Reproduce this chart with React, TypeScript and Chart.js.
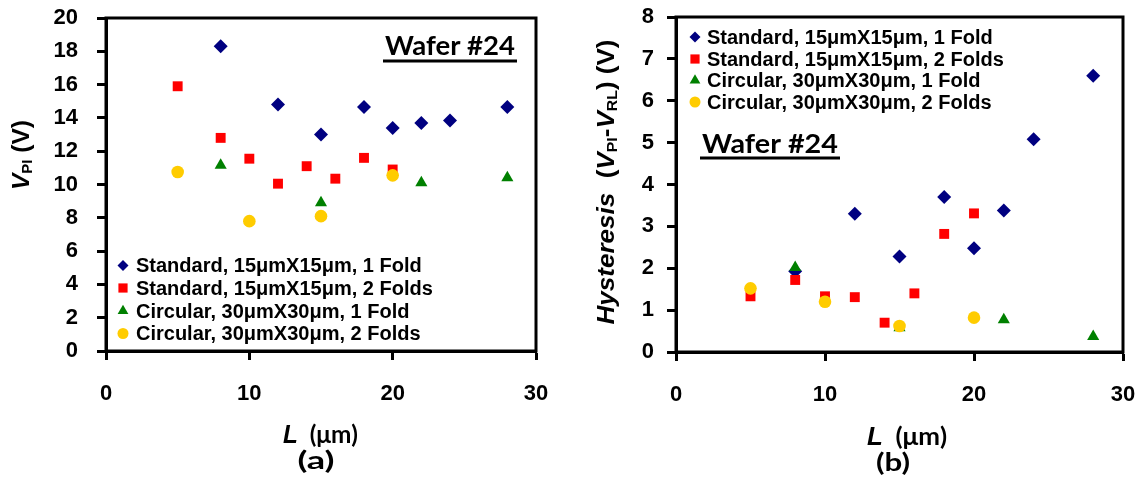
import React, { useEffect, useRef } from 'react';
import { Chart, registerables } from 'chart.js';
Chart.register(...registerables);

// ---------------- Data ----------------
const xMin = 0;
const xMax = 30;
const xStep = 10;
const vpiMax = 20;
const vpiStep = 2;
const hystMax = 8;
const hystStep = 1;

const seriesNames = [
  'Standard, 15μmX15μm, 1 Fold',
  'Standard, 15μmX15μm, 2 Folds',
  'Circular, 30μmX30μm, 1 Fold',
  'Circular, 30μmX30μm, 2 Folds',
];
const seriesColors = ['#000080', '#FF0000', '#008000', '#FFCC00'];
const seriesShapes = ['rectRot', 'rect', 'triangle', 'circle'];

const stdFold1L = [8, 12, 15, 18, 20, 22, 24, 28];
const stdFold2L = [5, 8, 10, 12, 14, 16, 18, 20];
const circFold1L = [8, 15, 22, 28];
const circFold2L = [5, 10, 15, 20];

// (a) V_PI (V)
const stdFold1Vpi = [18.3, 14.8, 13.0, 14.65, 13.4, 13.7, 13.85, 14.65];
const stdFold2Vpi = [15.9, 12.8, 11.55, 10.05, 11.1, 10.35, 11.6, 10.9];
const circFold1Vpi = [11.15, 8.9, 10.1, 10.4];
const circFold2Vpi = [10.75, 7.8, 8.1, 10.55];

// (b) Hysteresis (V)
const stdFold1Hyst = [1.93, 3.3, 2.28, 3.7, 2.48, 3.38, 5.08, 6.6];
const stdFold2Hyst = [1.33, 1.72, 1.33, 1.31, 0.7, 1.4, 2.82, 3.31];
const circFold1Hyst = [2.02, 0.58, 0.77, 0.37];
const circFold2Hyst = [1.52, 1.2, 0.62, 0.82];

// ---------------- Helpers ----------------
const SANS = "'Liberation Sans', Arial, sans-serif";
const HUM = "Lato, 'Open Sans', sans-serif";

type Seg = { t: string; font: string; dy?: number };

function drawRich(
  ctx: CanvasRenderingContext2D,
  segs: Seg[],
  x: number,
  y: number,
  opts: { align?: 'left' | 'center'; width?: number; rotate?: boolean; baseline?: CanvasTextBaseline }
) {
  ctx.save();
  let total = 0;
  const ws = segs.map((s) => {
    ctx.font = s.font;
    const w = ctx.measureText(s.t).width;
    total += w;
    return w;
  });
  const sx = opts.width ? opts.width / total : 1;
  ctx.translate(x, y);
  if (opts.rotate) ctx.rotate(-Math.PI / 2);
  ctx.scale(sx, 1);
  let cx = opts.align === 'center' ? -total / 2 : 0;
  ctx.textBaseline = opts.baseline || 'alphabetic';
  ctx.textAlign = 'left';
  ctx.fillStyle = '#000';
  segs.forEach((s, i) => {
    ctx.font = s.font;
    ctx.fillText(s.t, cx, s.dy || 0);
    cx += ws[i];
  });
  ctx.restore();
}

function drawMarker(ctx: CanvasRenderingContext2D, shape: string, x: number, y: number, r: number, color: string) {
  ctx.save();
  ctx.fillStyle = color;
  ctx.beginPath();
  if (shape === 'rectRot') {
    ctx.moveTo(x - r, y);
    ctx.lineTo(x, y - r);
    ctx.lineTo(x + r, y);
    ctx.lineTo(x, y + r);
    ctx.closePath();
  } else if (shape === 'rect') {
    const s = Math.SQRT1_2 * r;
    ctx.rect(x - s, y - s, 2 * s, 2 * s);
  } else if (shape === 'triangle') {
    const a = (2 * Math.PI) / 3;
    ctx.moveTo(x, y - r);
    ctx.lineTo(x + Math.sin(a) * r, y - Math.cos(a) * r);
    ctx.lineTo(x + Math.sin(2 * a) * r, y - Math.cos(2 * a) * r);
    ctx.closePath();
  } else {
    ctx.arc(x, y, r, 0, Math.PI * 2);
  }
  ctx.fill();
  ctx.restore();
}

type Deco = {
  legend: { markerX: number; textX: number; rows: number[] };
  wafer: { x: number; y: number; width: number; ulY: number };
  xTitle: { x: number; y: number; width: number };
  panel: { text: string; x: number; y: number; width: number };
  yTitle: { segs: Seg[]; x: number; y: number; width: number };
};

function makePlugin(deco: Deco) {
  return {
    id: 'deco',
    beforeDatasetsDraw(chart: any) {
      const { ctx, chartArea } = chart;
      ctx.save();
      ctx.strokeStyle = '#000';
      ctx.lineWidth = 3;
      ctx.strokeRect(chartArea.left, chartArea.top, chartArea.right - chartArea.left, chartArea.bottom - chartArea.top);
      ctx.restore();
    },
    afterDraw(chart: any) {
      const ctx: CanvasRenderingContext2D = chart.ctx;
      // legend
      const radii = [5.5, 6.5, 6.2, 5.5];
      seriesNames.forEach((name, i) => {
        const ry = deco.legend.rows[i];
        drawMarker(ctx, seriesShapes[i], deco.legend.markerX, ry, radii[i], seriesColors[i]);
        ctx.save();
        ctx.font = `bold 20px ${SANS}`;
        ctx.fillStyle = '#000';
        ctx.textBaseline = 'middle';
        ctx.textAlign = 'left';
        ctx.fillText(name, deco.legend.textX, ry + 1);
        ctx.restore();
      });
      // wafer label
      const w = deco.wafer;
      drawRich(ctx, [{ t: 'Wafer #24', font: `bold 27px ${HUM}` }], w.x, w.y, { width: w.width });
      ctx.save();
      ctx.fillStyle = '#000';
      ctx.fillRect(w.x - 2, w.ulY - 1.5, w.width + 4, 3);
      ctx.restore();
      // x title
      const xt = deco.xTitle;
      drawRich(
        ctx,
        [
          { t: 'L', font: `italic bold 25px ${SANS}` },
          { t: '  (μm)', font: `bold 25px ${HUM}` },
        ],
        xt.x,
        xt.y,
        { width: xt.width }
      );
      // panel label
      const p = deco.panel;
      drawRich(ctx, [{ t: p.text, font: `bold 25px ${HUM}` }], p.x, p.y, { align: 'center', width: p.width });
      // y title
      const yt = deco.yTitle;
      drawRich(ctx, yt.segs, yt.x, yt.y, { align: 'center', width: yt.width, rotate: true, baseline: 'middle' });
    },
  };
}

function makeDatasets(vals: number[][]) {
  const xs = [stdFold1L, stdFold2L, circFold1L, circFold2L];
  const radii = [7, 7, 7, 6.3];
  return seriesNames.map((name, i) => ({
    label: name,
    data: xs[i].map((x, j) => ({ x, y: vals[i][j] })),
    pointStyle: seriesShapes[i],
    pointRadius: radii[i],
    pointHoverRadius: radii[i],
    pointBackgroundColor: seriesColors[i],
    pointBorderColor: seriesColors[i],
    pointBorderWidth: 0,
    backgroundColor: seriesColors[i],
    borderColor: seriesColors[i],
    showLine: false,
    order: 4 - i,
  }));
}

function axisCommon() {
  return {
    grid: {
      display: true,
      drawOnChartArea: false,
      drawTicks: true,
      tickLength: 9,
      tickWidth: 3,
      tickColor: '#000',
    },
    border: { display: true, color: '#000', width: 3 },
  };
}

function zeroPad(s: any) {
  s.paddingTop = 0;
  s.paddingBottom = 0;
  s.paddingLeft = 0;
  s.paddingRight = 0;
}

function buildConfig(
  vals: number[][],
  yMax: number,
  yStep: number,
  yLabelPad: number,
  padding: { left: number; right: number; top: number; bottom: number },
  yWidth: number,
  xHeight: number,
  deco: Deco
): any {
  const tickFont = { family: SANS, weight: 'bold' as const, size: 22 };
  return {
    type: 'scatter',
    data: { datasets: makeDatasets(vals) },
    options: {
      animation: false,
      responsive: false,
      devicePixelRatio: 1,
      layout: { padding },
      plugins: { legend: { display: false }, tooltip: { enabled: false }, title: { display: false } },
      scales: {
        x: {
          type: 'linear',
          min: xMin,
          max: xMax,
          ticks: { stepSize: xStep, font: tickFont, color: '#000', padding: 21, maxRotation: 0 },
          ...axisCommon(),
          afterFit: (s: any) => {
            s.height = xHeight;
            zeroPad(s);
          },
        },
        y: {
          type: 'linear',
          min: 0,
          max: yMax,
          ticks: { stepSize: yStep, font: tickFont, color: '#000', padding: yLabelPad },
          ...axisCommon(),
          afterFit: (s: any) => {
            s.width = yWidth;
            zeroPad(s);
          },
        },
      },
    },
    plugins: [makePlugin(deco)],
  };
}

function Panel(props: { width: number; config: any }) {
  const ref = useRef<HTMLCanvasElement | null>(null);
  useEffect(() => {
    if (!ref.current) return;
    const chart = new Chart(ref.current, props.config);
    return () => chart.destroy();
  }, []);
  return <canvas ref={ref} width={props.width} height={489} style={{ display: 'block', width: props.width, height: 489 }} />;
}

const vSegs = (size: number): Seg[] => [
  { t: 'V', font: `italic bold ${size}px ${SANS}` },
  { t: 'PI', font: `bold ${Math.round(size * 0.62)}px ${SANS}`, dy: 5 },
];

export default function App() {
  const configA = buildConfig(
    [stdFold1Vpi, stdFold2Vpi, circFold1Vpi, circFold2Vpi],
    vpiMax,
    vpiStep,
    19,
    { left: 0, right: 24, top: 18, bottom: 0 },
    106,
    138,
    {
      legend: { markerX: 123, textX: 136, rows: [265.5, 288, 311, 333.5] },
      wafer: { x: 385, y: 55, width: 130, ulY: 61 },
      xTitle: { x: 283, y: 443, width: 75 },
      panel: { text: '(a)', x: 316, y: 469, width: 37 },
      yTitle: {
        segs: [...vSegs(23), { t: ' (V)', font: `bold 23px ${SANS}` }],
        x: 23,
        y: 155,
        width: 70,
      },
    }
  );
  const configB = buildConfig(
    [stdFold1Hyst, stdFold2Hyst, circFold1Hyst, circFold2Hyst],
    hystMax,
    hystStep,
    13,
    { left: 0, right: 18, top: 17, bottom: 0 },
    116,
    137,
    {
      legend: { markerX: 135, textX: 147, rows: [37, 59, 80.5, 102] },
      wafer: { x: 142, y: 153, width: 136, ulY: 158 },
      xTitle: { x: 307, y: 445, width: 80 },
      panel: { text: '(b)', x: 333, y: 471, width: 34 },
      yTitle: {
        segs: [
          { t: 'Hysteresis', font: `italic bold 23px ${SANS}` },
          { t: '  (', font: `bold 23px ${SANS}` },
          ...vSegs(23),
          { t: '-', font: `bold 23px ${SANS}` },
          { t: 'V', font: `italic bold 23px ${SANS}` },
          { t: 'RL', font: `bold 14px ${SANS}`, dy: 5 },
          { t: ') (V)', font: `bold 23px ${SANS}` },
        ],
        x: 48,
        y: 182,
        width: 285,
      },
    }
  );
  return (
    <div style={{ position: 'absolute', left: 0, top: 0, width: 1141, height: 489, background: '#fff', overflow: 'hidden' }}>
      <div style={{ position: 'absolute', left: 0, top: 0 }}>
        <Panel width={560} config={configA} />
      </div>
      <div style={{ position: 'absolute', left: 560, top: 0 }}>
        <Panel width={581} config={configB} />
      </div>
    </div>
  );
}
